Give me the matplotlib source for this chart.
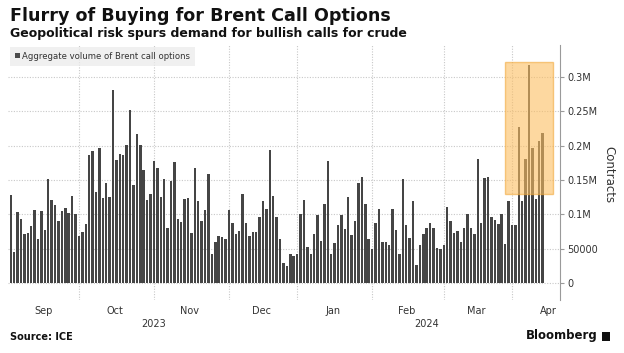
import numpy as np
import matplotlib
matplotlib.use("Agg")
import matplotlib.pyplot as plt
from matplotlib.patches import Patch, Rectangle
from matplotlib.transforms import blended_transform_factory

# ---- data (daily aggregate volume of Brent call options, thousands of contracts) ----
months = ["Sep", "Oct", "Nov", "Dec", "Jan", "Feb", "Mar", "Apr"]
month_counts = [20, 22, 22, 20, 22, 21, 20, 10]   # trading days shown per month
years = ["2023", "2024"]

sep = [128, 46, 104, 94, 71, 73, 83, 107, 65, 105, 78, 152, 121, 114, 91, 105, 109, 102, 127, 100]
oct_ = [68, 74, 86, 186, 192, 133, 197, 124, 146, 126, 281, 179, 188, 186, 201, 251, 143, 217, 201, 164, 121, 129]
nov = [177, 168, 125, 151, 80, 148, 176, 94, 89, 123, 124, 73, 167, 120, 90, 106, 159, 42, 60, 69, 67, 65]
dec = [107, 87, 72, 76, 129, 88, 69, 75, 74, 96, 119, 108, 193, 127, 96, 65, 29, 25, 43, 40]
jan = [42, 101, 121, 53, 43, 72, 99, 62, 115, 177, 42, 58, 85, 99, 79, 125, 70, 90, 146, 155, 115, 65]
feb = [50, 87, 108, 60, 60, 56, 108, 78, 43, 152, 84, 66, 119, 27, 55, 71, 81, 88, 80, 52, 50]
mar = [55, 111, 91, 73, 76, 60, 81, 101, 80, 71, 180, 87, 153, 155, 96, 92, 86, 101, 57, 120]
apr = [84, 84, 227, 119, 181, 317, 196, 123, 207, 218]

volume_k = sep + oct_ + nov + dec + jan + feb + mar + apr
volume = np.array(volume_k) * 1000

y_ticks = [0, 50000, 100000, 150000, 200000, 250000, 300000]
y_tick_labels = ["0", "50000", "0.1M", "0.15M", "0.2M", "0.25M", "0.3M"]

# highlighted region (bar index range and contract range)
highlight_x = (145.0, 159.0)
highlight_y = (130000, 322000)

# ---- figure ----
W, H = 624, 353
fig = plt.figure(figsize=(W / 100, H / 100), dpi=100)
fig.patch.set_facecolor("white")
ax_left, ax_right, ax_top, ax_bottom = 8, 560, 45, 300
ax = fig.add_axes([ax_left / W, 1 - ax_bottom / H, (ax_right - ax_left) / W, (ax_bottom - ax_top) / H])

x = np.arange(len(volume))
grid_kw = dict(color="#c8c8c8", lw=0.8, ls=(0, (1, 1.4)), zorder=0)

for yt in y_ticks:
    ax.axhline(yt, **grid_kw)

bounds = np.cumsum(month_counts)[:-1]
for b in bounds:
    ax.axvline(b, **grid_kw)

ax.bar(x, volume, width=0.72, color="#454545", zorder=2)

ax.add_patch(Rectangle((highlight_x[0], highlight_y[0]),
                       highlight_x[1] - highlight_x[0], highlight_y[1] - highlight_y[0],
                       facecolor="#fcbe61", alpha=0.6, edgecolor="#f2a93b", lw=1.0, zorder=3))

ax.set_xlim(-0.8, 161.1)
ax.set_ylim(-24200, 346000)

for s in ["left", "top", "bottom"]:
    ax.spines[s].set_visible(False)
ax.spines["right"].set_color("#9a9a9a")
ax.spines["right"].set_linewidth(0.8)

ax.yaxis.tick_right()
ax.set_yticks(y_ticks)
ax.set_yticklabels(y_tick_labels)
ax.tick_params(axis="y", length=3, width=0.8, color="#9a9a9a", labelsize=7, labelcolor="#333333", pad=2)

# month labels
starts = np.concatenate([[0], bounds])
centers = [s + (c - 1) / 2 for s, c in zip(starts, month_counts)]
centers[-1] = 157.6
ax.set_xticks(centers)
ax.set_xticklabels(months)
ax.tick_params(axis="x", length=0, labelsize=7, labelcolor="#333333", pad=4)

trans = blended_transform_factory(ax.transData, fig.transFigure)
year_pos = [bounds[1], 122]
for yp, yl in zip(year_pos, years):
    ax.text(yp, 1 - 324 / H, yl, transform=trans, ha="center", va="center", fontsize=7, color="#333333")

# legend
leg = ax.legend(handles=[Patch(facecolor="#4b4b4b", label="Aggregate volume of Brent call options")],
                loc="upper left", bbox_to_anchor=(0.0, 1.0), fontsize=6.1, frameon=True,
                fancybox=False, handlelength=0.6, handleheight=0.6, handletextpad=0.3,
                borderpad=0.6, borderaxespad=0.2)
leg.get_frame().set_facecolor("#ebebeb")
leg.get_frame().set_edgecolor("none")
leg.get_frame().set_alpha(0.75)
for t in leg.get_texts():
    t.set_color("#333333")

fig.text(609 / W, 1 - 175 / H, "Contracts", rotation=-90, ha="center", va="center", fontsize=8.5, color="#333333")

fig.text(10 / W, 1 - 16 / H, "Flurry of Buying for Brent Call Options", fontsize=12.6, fontweight="bold",
         ha="left", va="center", color="#111111")
fig.text(10 / W, 1 - 33 / H, "Geopolitical risk spurs demand for bullish calls for crude", fontsize=9.0,
         fontweight="bold", ha="left", va="center", color="#111111")
fig.text(10 / W, 1 - 337 / H, "Source: ICE", fontsize=7, fontweight="bold", ha="left", va="center", color="#111111")
fig.text(598 / W, 1 - 336 / H, "Bloomberg", fontsize=8.5, fontweight="bold", ha="right", va="center", color="#111111")
fig.patches.append(Rectangle((602 / W, 1 - 341 / H), 8 / W, 9 / H, transform=fig.transFigure,
                             facecolor="#111111", edgecolor="none"))

fig.savefig("out.png", dpi=100, facecolor="white")
